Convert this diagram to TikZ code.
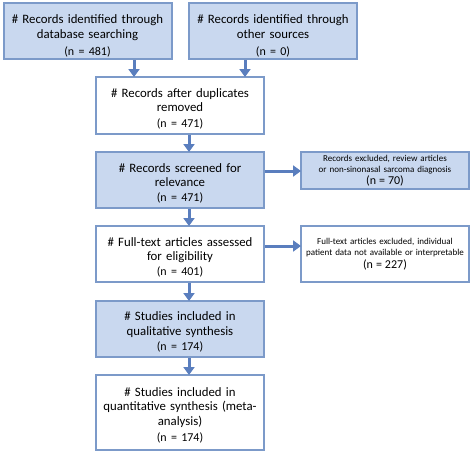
\documentclass[tikz,border=0pt]{standalone}
\usepackage{fontspec}
\setmainfont{Carlito}
\usetikzlibrary{arrows.meta}
\definecolor{boxfill}{HTML}{C9D8EF}
\definecolor{boxline}{HTML}{7C9AC9}
\definecolor{arrowblue}{HTML}{5A7EBE}
\tikzset{
    stage/.style={draw=boxline, line width=2pt, minimum width=168pt, text width=164pt,
        align=center, font=\fontsize{12.8}{14.5}\selectfont, inner sep=0pt,
        execute at begin node=\rule{0pt}{15pt}},
    shaded/.style={stage, fill=boxfill},
    plain/.style={stage, fill=white},
    excl/.style={draw=boxline, line width=2pt, minimum width=168pt, text width=166pt,
        align=center, font=\fontsize{9}{11.5}\selectfont, inner sep=0pt},
    arr/.style={draw=arrowblue, line width=3pt, -{Triangle[width=11pt,length=8pt]}, shorten >=-1pt},
}
\newcommand{\nval}[1]{{\fontsize{12}{14}\selectfont (n = #1)}}
\begin{document}
\begin{tikzpicture}[x=1pt,y=-1pt]
%%   kw   (name)   (x, y)   {text}
    \useasboundingbox[fill=white] (0,0) rectangle (472,453);
    \node[shaded, minimum height=56pt, execute at begin node=\rule{0pt}{19pt}] (db) at (87.5, 31) {\# Records identified through\\ database searching\\[3pt] \nval{481}};
    \node[shaded, minimum height=56pt, execute at begin node=\rule{0pt}{19pt}] (other) at (273, 31) {\# Records identified through\\ other sources\\[3pt] \nval{0}};
    \node[plain,  minimum height=57pt] (dup)   at (180, 105.5) {\# Records after duplicates\\ removed\\[1pt] \nval{471}};
    \node[shaded, minimum height=56pt] (screen) at (180, 180) {\# Records screened for\\ relevance\\ \nval{471}};
    \node[excl, fill=boxfill, minimum height=37pt] (excl1) at (385, 170.5) {Records excluded, review articles\\ or non-sinonasal sarcoma diagnosis\\ \nval{70}};
    \node[plain,  minimum height=56pt] (full)  at (180, 254) {\# Full-text articles assessed\\ for eligibility\\ \nval{401}};
    \node[excl, fill=white, minimum height=56pt] (excl2) at (385, 254) {Full-text articles excluded, individual\\ patient data not available or interpretable\\[1pt] \nval{227}};
    \node[shaded, minimum height=56pt] (qual)  at (180, 329) {\# Studies included in\\ qualitative synthesis\\[1pt] \nval{174}};
    \node[plain,  minimum height=75pt, execute at begin node=\rule{0pt}{14pt}] (quant) at (180, 412.5) {\# Studies included in\\ quantitative synthesis (meta-\\ analysis)\\[2pt] \nval{174}};
    \draw[arr] ([xshift=46.5pt]db.south) -- ([xshift=46.5pt]db.south |- dup.north);
    \draw[arr] ([xshift=-28pt]other.south) -- ([xshift=-28pt]other.south |- dup.north);
    \draw[arr] ([xshift=9pt]dup.south) -- ([xshift=9pt]screen.north);
    \draw[arr] ([xshift=9pt]screen.south) -- ([xshift=9pt]full.north);
    \draw[arr] ([xshift=9pt]full.south) -- ([xshift=9pt]qual.north);
    \draw[arr] ([xshift=9pt]qual.south) -- ([xshift=9pt]quant.north);
    \draw[arr] (screen.east |- 0,171) -- (excl1.west |- 0,171);
    \draw[arr] (full.east |- 0,246) -- (excl2.west |- 0,246);
\end{tikzpicture}
\end{document}
